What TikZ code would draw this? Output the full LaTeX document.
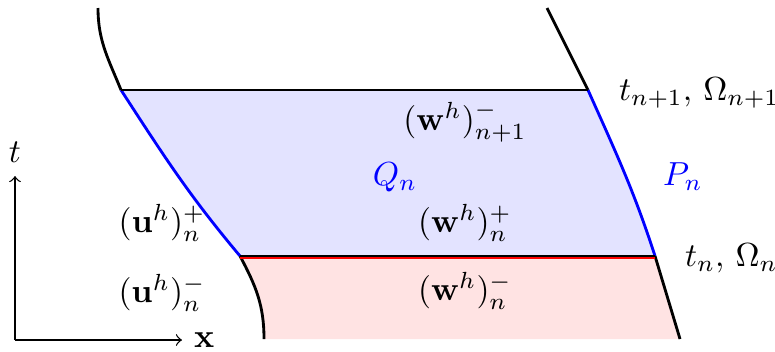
\documentclass[tikz,border=0pt]{standalone}
\usepackage{amsmath}
\begin{document}
\begin{tikzpicture}[x=0.3pt,y=0.3pt,
  bnd/.style={black,line width=0.85pt},
  side/.style={blue,line width=0.85pt},
  ax/.style={black,line width=0.4pt,->},
  lab/.style={inner sep=1pt}]
\useasboundingbox (0,0) rectangle (775,351);
% corners
\coordinate (LT) at (98,343);
\coordinate (L1) at (121,261);
\coordinate (L0) at (240,95);
\coordinate (LB) at (264,12);
\coordinate (RT) at (547,343);
\coordinate (R1) at (588,261);
\coordinate (R0) at (655,95);
\coordinate (RB) at (680,12);
% fills
\fill[blue!11] (L1) -- (R1) to[out=-66,in=108] (R0) -- (L0) to[out=130,in=-57] (L1) -- cycle;
\fill[red!11] (L0) -- (R0) -- (RB) -- (LB) to[out=90,in=-62] (L0) -- cycle;
% boundaries
\draw[bnd] (LT) to[out=-90,in=112] (L1);
\draw[side] (L1) to[out=-57,in=130] (L0);
\draw[bnd] (L0) to[out=-62,in=90] (LB);
\draw[bnd] (RT) -- (R1);
\draw[side] (R1) to[out=-66,in=108] (R0);
\draw[bnd] (R0) -- (RB);
\draw[bnd] (L1) -- (R1);
\draw[red,line width=0.6pt] ([yshift=-0.55pt]L0) -- ([yshift=-0.55pt]R0);
\draw[bnd] (L0) -- (R0);
% axes
\coordinate (O) at (15,11);
\node[lab] (tl) at (15,199) {$t$};
\node[lab,anchor=west] (xl) at (190,11) {$\mathbf{x}$};
\draw[ax] (O) -- (15,175);
\draw[ax] (O) -- (182,11);
% labels
\node[lab] (w1) at (465,229) {$(\mathbf{w}^h)^-_{n+1}$};
\node[lab,blue] (Q) at (395,174) {$Q_n$};
\node[lab,blue] (P) at (683,174) {$P_n$};
\node[lab] (wp) at (465,128) {$(\mathbf{w}^h)^+_n$};
\node[lab] (wm) at (465,60) {$(\mathbf{w}^h)^-_n$};
\node[lab] (up) at (162,128) {$(\mathbf{u}^h)^+_n$};
\node[lab] (um) at (162,58) {$(\mathbf{u}^h)^-_n$};
\node[lab,anchor=west] (tn1) at (615,258) {$t_{n+1},\, \Omega_{n+1}$};
\node[lab,anchor=west] (tn) at (681,93) {$t_n,\, \Omega_n$};
\end{tikzpicture}
\end{document}
